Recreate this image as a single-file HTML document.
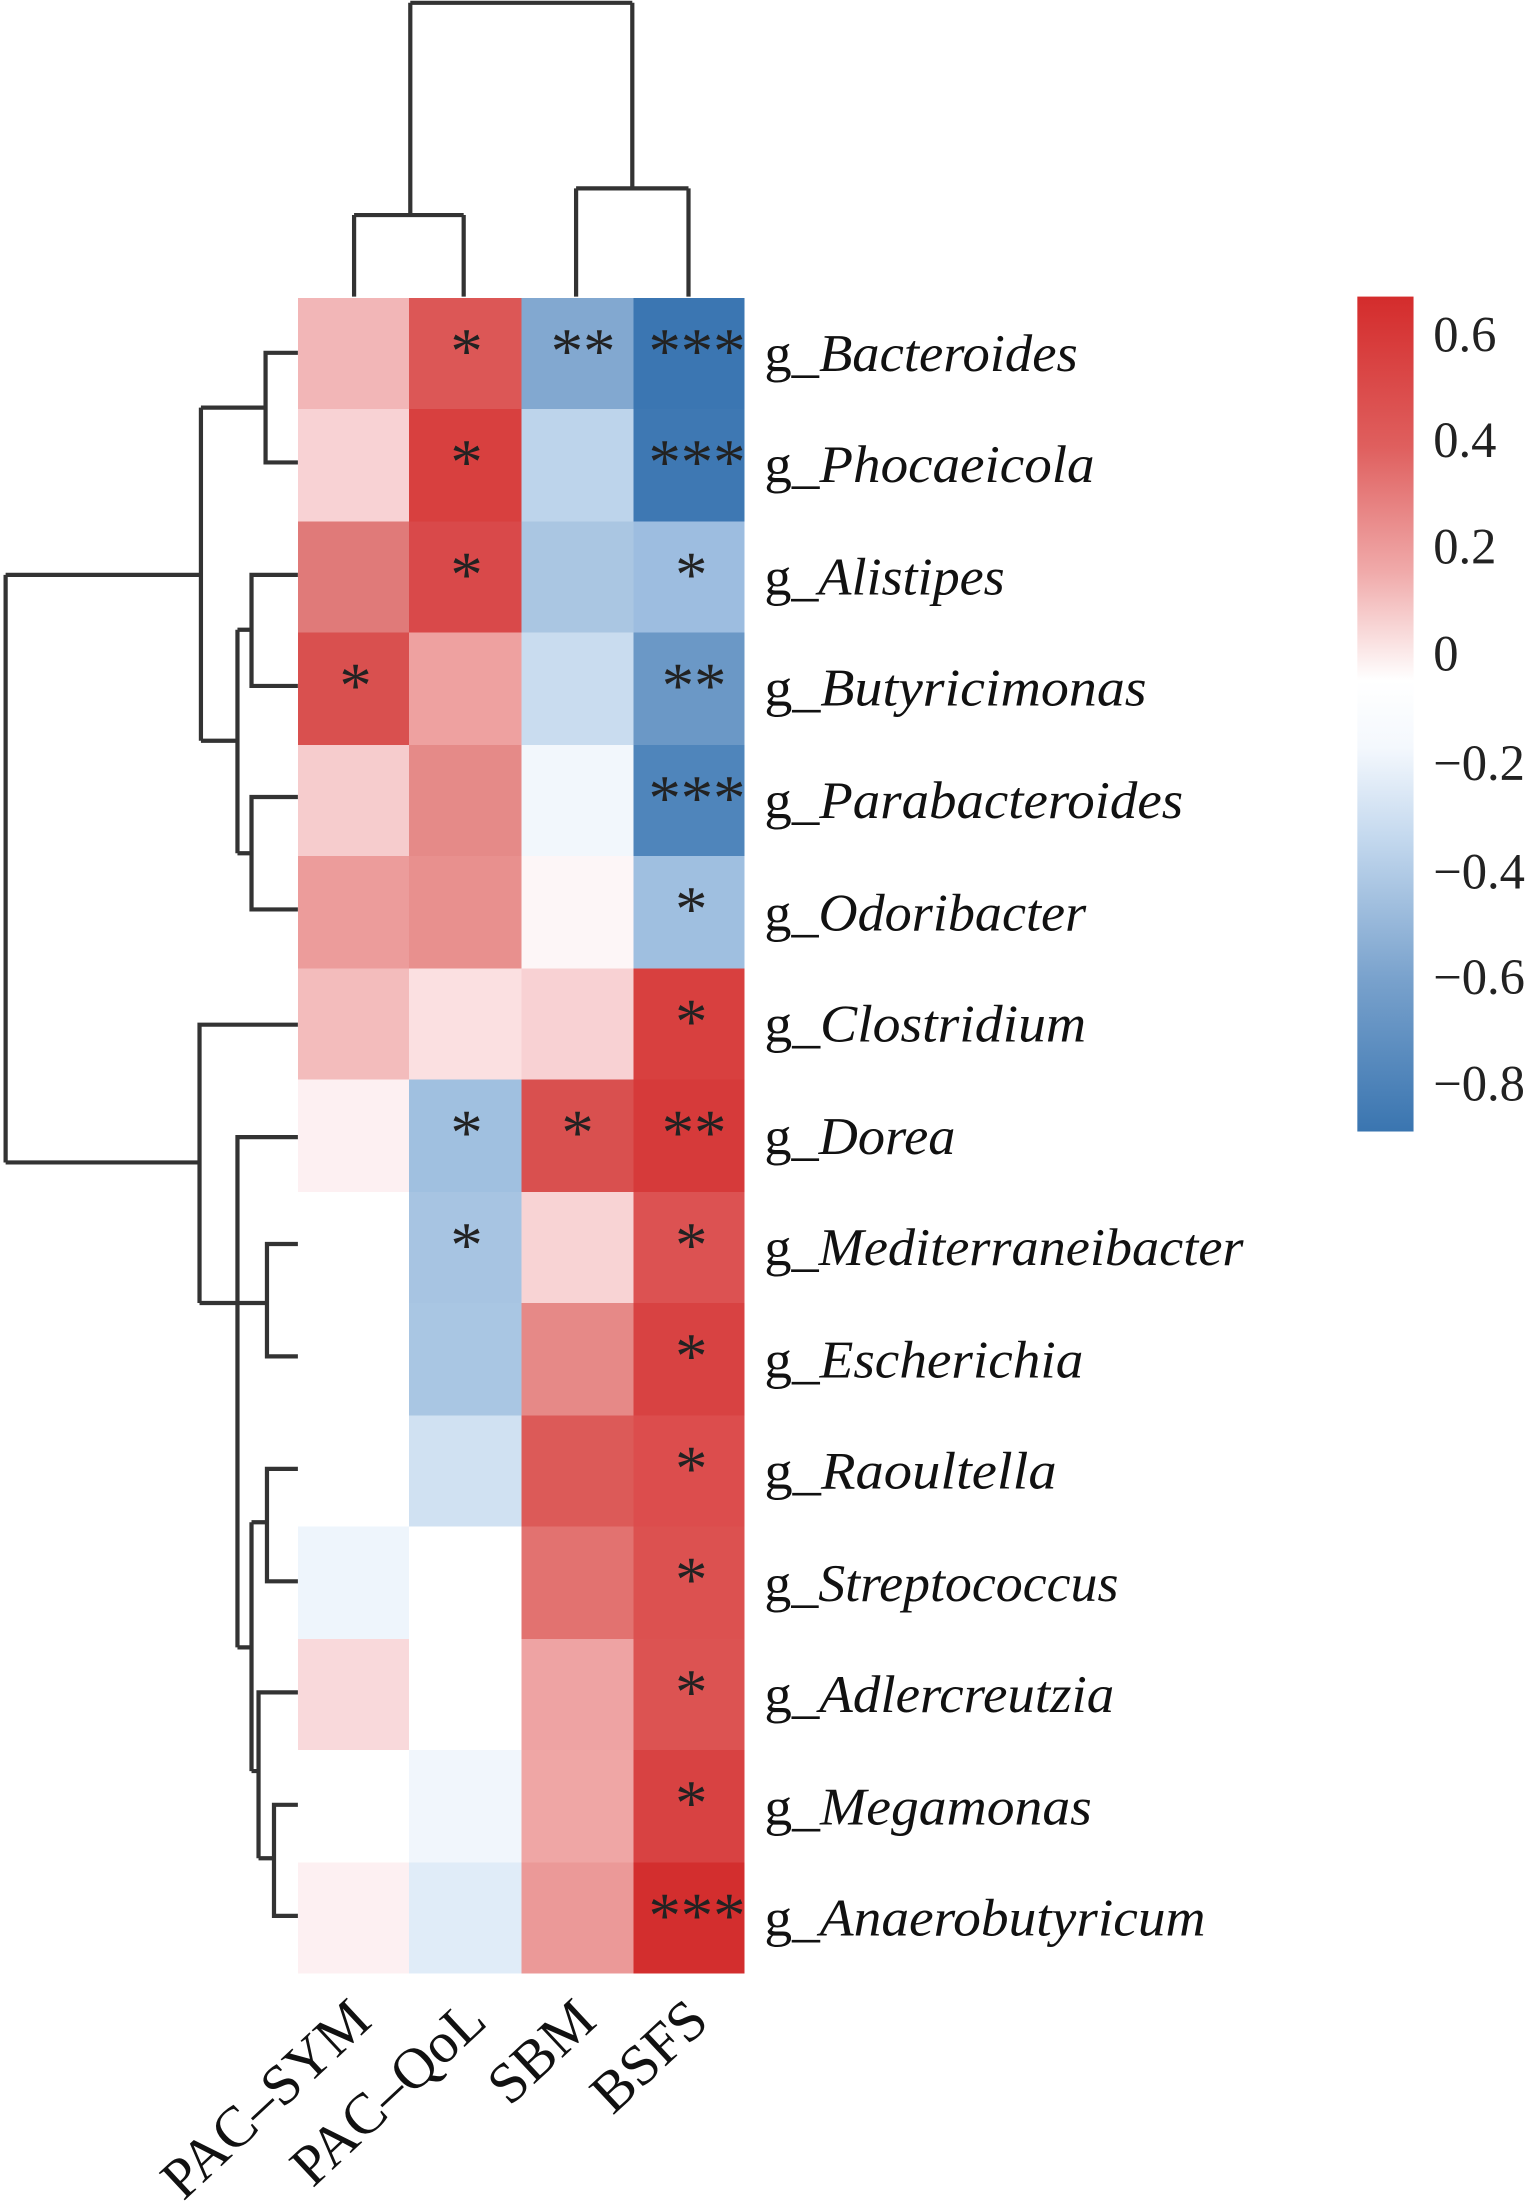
<!DOCTYPE html>
<html><head><meta charset="utf-8"><style>html,body{margin:0;padding:0;background:#fff}svg{display:block}</style></head>
<body>
<svg width="1540" height="2204" viewBox="0 0 1096 1568" preserveAspectRatio="none" xmlns="http://www.w3.org/2000/svg">
<defs>
<linearGradient id="cb" x1="0" y1="0" x2="0" y2="1">
<stop offset="0" stop-color="#d42c2c"/>
<stop offset="0.18" stop-color="#df5f5e"/>
<stop offset="0.33" stop-color="#f0aaaa"/>
<stop offset="0.46" stop-color="#ffffff"/>
<stop offset="0.54" stop-color="#f4f8fd"/>
<stop offset="0.65" stop-color="#c3d8ee"/>
<stop offset="0.82" stop-color="#78a1cc"/>
<stop offset="1" stop-color="#3a75b0"/>
</linearGradient>
</defs>
<rect width="1096" height="1568" fill="#fff"/>
<g shape-rendering="crispEdges">
<rect x="212" y="212" width="80" height="80" fill="#f2b6b7"/><rect x="291" y="212" width="80" height="80" fill="#dc5756"/><rect x="371" y="212" width="80" height="80" fill="#82a8d0"/><rect x="451" y="212" width="79" height="80" fill="#3b76b2"/>
<rect x="212" y="291" width="80" height="80" fill="#f8d2d4"/><rect x="291" y="291" width="80" height="80" fill="#d8403f"/><rect x="371" y="291" width="80" height="80" fill="#bdd4eb"/><rect x="451" y="291" width="79" height="80" fill="#3e78b3"/>
<rect x="212" y="371" width="80" height="80" fill="#e07a79"/><rect x="291" y="371" width="80" height="80" fill="#d9494a"/><rect x="371" y="371" width="80" height="80" fill="#aac6e2"/><rect x="451" y="371" width="79" height="80" fill="#9dbde0"/>
<rect x="212" y="450" width="80" height="80" fill="#d9504f"/><rect x="291" y="450" width="80" height="80" fill="#eea1a0"/><rect x="371" y="450" width="80" height="80" fill="#c9dcef"/><rect x="451" y="450" width="79" height="80" fill="#6b98c6"/>
<rect x="212" y="530" width="80" height="80" fill="#f6cccd"/><rect x="291" y="530" width="80" height="80" fill="#e58a88"/><rect x="371" y="530" width="80" height="80" fill="#f2f7fc"/><rect x="451" y="530" width="79" height="80" fill="#4f85bb"/>
<rect x="212" y="609" width="80" height="80" fill="#ec9c9b"/><rect x="291" y="609" width="80" height="80" fill="#e8908e"/><rect x="371" y="609" width="80" height="80" fill="#fdf6f7"/><rect x="451" y="609" width="79" height="80" fill="#9fbfe0"/>
<rect x="212" y="689" width="80" height="80" fill="#f3bcbc"/><rect x="291" y="689" width="80" height="80" fill="#fbe0e1"/><rect x="371" y="689" width="80" height="80" fill="#f8d1d3"/><rect x="451" y="689" width="79" height="80" fill="#d8403f"/>
<rect x="212" y="768" width="80" height="80" fill="#fdf0f2"/><rect x="291" y="768" width="80" height="80" fill="#a0c0e0"/><rect x="371" y="768" width="80" height="80" fill="#d9504f"/><rect x="451" y="768" width="79" height="80" fill="#d63a3a"/>
<rect x="212" y="848" width="80" height="80" fill="#ffffff"/><rect x="291" y="848" width="80" height="80" fill="#a7c4e2"/><rect x="371" y="848" width="80" height="80" fill="#f8d3d4"/><rect x="451" y="848" width="79" height="80" fill="#dc5252"/>
<rect x="212" y="927" width="80" height="80" fill="#ffffff"/><rect x="291" y="927" width="80" height="80" fill="#a9c6e3"/><rect x="371" y="927" width="80" height="80" fill="#e68987"/><rect x="451" y="927" width="79" height="80" fill="#d84242"/>
<rect x="212" y="1007" width="80" height="80" fill="#ffffff"/><rect x="291" y="1007" width="80" height="80" fill="#d0e1f2"/><rect x="371" y="1007" width="80" height="80" fill="#dc5a58"/><rect x="451" y="1007" width="79" height="80" fill="#dc4d4d"/>
<rect x="212" y="1086" width="80" height="80" fill="#eef5fc"/><rect x="291" y="1086" width="80" height="80" fill="#ffffff"/><rect x="371" y="1086" width="80" height="80" fill="#e27270"/><rect x="451" y="1086" width="79" height="80" fill="#dc5150"/>
<rect x="212" y="1166" width="80" height="80" fill="#f9d9db"/><rect x="291" y="1166" width="80" height="80" fill="#ffffff"/><rect x="371" y="1166" width="80" height="80" fill="#eea3a3"/><rect x="451" y="1166" width="79" height="80" fill="#dc5352"/>
<rect x="212" y="1245" width="80" height="80" fill="#ffffff"/><rect x="291" y="1245" width="80" height="80" fill="#f1f6fc"/><rect x="371" y="1245" width="80" height="80" fill="#efa6a5"/><rect x="451" y="1245" width="79" height="80" fill="#d84242"/>
<rect x="212" y="1325" width="80" height="79" fill="#fdf0f2"/><rect x="291" y="1325" width="80" height="79" fill="#e0ecf8"/><rect x="371" y="1325" width="80" height="79" fill="#eb9998"/><rect x="451" y="1325" width="79" height="79" fill="#d32e2e"/>
</g>
<g font-family="'Liberation Serif', serif" font-size="46" fill="#222" text-anchor="middle">
<text x="332" y="265">*</text><text x="415" y="265">**</text><text x="496" y="265">***</text>
<text x="332" y="344">*</text><text x="496" y="344">***</text>
<text x="332" y="424">*</text><text x="492" y="424">*</text>
<text x="253" y="503">*</text><text x="494" y="503">**</text>
<text x="496" y="583">***</text>
<text x="492" y="662">*</text>
<text x="492" y="742">*</text>
<text x="332" y="821">*</text><text x="411" y="821">*</text><text x="494" y="821">**</text>
<text x="332" y="901">*</text><text x="492" y="901">*</text>
<text x="492" y="980">*</text>
<text x="492" y="1060">*</text>
<text x="492" y="1139">*</text>
<text x="492" y="1219">*</text>
<text x="492" y="1298">*</text>
<text x="496" y="1378">***</text>
</g>
<g stroke="#333" stroke-width="3" fill="none">
<path d="M292 2 H450 M292 2 V153 M450 2 V134 M252 153 H330 M252 153 V211 M330 153 V211 M410 134 H490 M410 134 V211 M490 134 V211"/>
<path d="M212 251 H189 V329 H212 M189 290 H143 M143 290 V527 M143 409 H4 M4 409 V827 M4 827 H142"/>
<path d="M212 409 H179 V488 H212 M179 448 H169 M169 448 V607 M143 527 H169 M212 567 H179 V647 H212 M179 607 H169"/>
<path d="M212 729 H142 V927 M142 927 H190 M212 809 H169 V1172 M212 885 H190 V965 H212 M169 1172 H179 M179 1083 V1260 M212 1045 H190 V1125 H212 M190 1083 H179 M179 1260 H184 M212 1204 H184 V1322 M212 1284 H195 V1363 H212 M195 1322 H184"/>
</g>
<g font-family="'Liberation Serif', serif" font-size="38" fill="#111">
<text x="544" y="264" textLength="223" lengthAdjust="spacingAndGlyphs">g_<tspan font-style="italic">Bacteroides</tspan></text>
<text x="544" y="343" textLength="235" lengthAdjust="spacingAndGlyphs">g_<tspan font-style="italic">Phocaeicola</tspan></text>
<text x="544" y="423" textLength="171" lengthAdjust="spacingAndGlyphs">g_<tspan font-style="italic">Alistipes</tspan></text>
<text x="544" y="502" textLength="272" lengthAdjust="spacingAndGlyphs">g_<tspan font-style="italic">Butyricimonas</tspan></text>
<text x="544" y="582" textLength="298" lengthAdjust="spacingAndGlyphs">g_<tspan font-style="italic">Parabacteroides</tspan></text>
<text x="544" y="662" textLength="229" lengthAdjust="spacingAndGlyphs">g_<tspan font-style="italic">Odoribacter</tspan></text>
<text x="544" y="741" textLength="229" lengthAdjust="spacingAndGlyphs">g_<tspan font-style="italic">Clostridium</tspan></text>
<text x="544" y="821" textLength="136" lengthAdjust="spacingAndGlyphs">g_<tspan font-style="italic">Dorea</tspan></text>
<text x="544" y="900" textLength="341" lengthAdjust="spacingAndGlyphs">g_<tspan font-style="italic">Mediterraneibacter</tspan></text>
<text x="544" y="980" textLength="227" lengthAdjust="spacingAndGlyphs">g_<tspan font-style="italic">Escherichia</tspan></text>
<text x="544" y="1059" textLength="208" lengthAdjust="spacingAndGlyphs">g_<tspan font-style="italic">Raoultella</tspan></text>
<text x="544" y="1139" textLength="252" lengthAdjust="spacingAndGlyphs">g_<tspan font-style="italic">Streptococcus</tspan></text>
<text x="544" y="1218" textLength="249" lengthAdjust="spacingAndGlyphs">g_<tspan font-style="italic">Adlercreutzia</tspan></text>
<text x="544" y="1298" textLength="233" lengthAdjust="spacingAndGlyphs">g_<tspan font-style="italic">Megamonas</tspan></text>
<text x="544" y="1377" textLength="314" lengthAdjust="spacingAndGlyphs">g_<tspan font-style="italic">Anaerobutyricum</tspan></text>
</g>
<g font-family="'Liberation Serif', serif" font-size="41" fill="#111" text-anchor="end">
<text transform="translate(266,1440) rotate(-43)">PAC–SYM</text>
<text transform="translate(348,1440) rotate(-43)">PAC–QoL</text>
<text transform="translate(426,1440) rotate(-43)">SBM</text>
<text transform="translate(506,1440) rotate(-43)">BSFS</text>
</g>
<rect x="966" y="211" width="40" height="594" fill="url(#cb)"/>
<g font-family="'Liberation Serif', serif" font-size="36" fill="#222">
<text x="1020" y="250">0.6</text>
<text x="1020" y="325">0.4</text>
<text x="1020" y="401">0.2</text>
<text x="1020" y="477">0</text>
<text x="1020" y="555">−0.2</text>
<text x="1020" y="632">−0.4</text>
<text x="1020" y="707">−0.6</text>
<text x="1020" y="783">−0.8</text>
</g>
</svg>
</body></html>
